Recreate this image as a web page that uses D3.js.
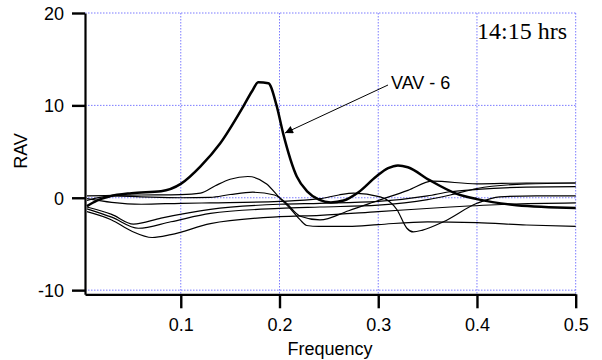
<!DOCTYPE html>
<html>
<head>
<meta charset="utf-8">
<script src="https://cdn.jsdelivr.net/npm/d3@7"></script>
<style>
  body { margin: 0; background: #fff; }
  text { font-family: Arial, "Liberation Sans", sans-serif; }
</style>
</head>
<body>
<script>

// frequency ticks and value ticks
const xTicks = [0.1, 0.2, 0.3, 0.4, 0.5];
const yTicks = [-10, 0, 10, 20];

// VAV - 6 (thick line)
const fVav = [0.005, 0.015, 0.028, 0.05, 0.08, 0.1, 0.12, 0.14, 0.1634, 0.172, 0.1786, 0.1887, 0.197, 0.2036, 0.2175, 0.228, 0.24, 0.252, 0.265, 0.28, 0.298, 0.31, 0.32, 0.33, 0.352, 0.379, 0.4, 0.44, 0.5];
const vVav = [-0.9, -0.3, 0.15, 0.5, 0.7, 1.5, 3.4, 5.9, 9.9, 11.5, 12.5, 12.4, 10.0, 7.0, 2.3, 0.7, -0.2, -0.5, -0.3, 0.6, 2.3, 3.2, 3.5, 3.3, 1.9, 0.45, -0.15, -0.8, -1.1];

// other units (thin lines)
const fT1 = [0.005, 0.03, 0.06, 0.1, 0.12, 0.135, 0.15, 0.168, 0.187, 0.2, 0.212, 0.221, 0.2276, 0.24, 0.27, 0.3, 0.35, 0.4, 0.45, 0.5];
const vT1 = [0.2, 0.25, 0.3, 0.35, 0.5, 1.3, 2.0, 2.3, 1.5, 0.0, -1.3, -2.4, -3.0, -3.1, -3.1, -2.9, -2.6, -2.7, -2.95, -3.1];

const fT2 = [0.005, 0.03, 0.06, 0.1, 0.13, 0.15, 0.173, 0.195, 0.207, 0.221, 0.241, 0.27, 0.3, 0.33, 0.355, 0.4, 0.45, 0.5];
const vT2 = [-0.3, 0.2, 0.1, 0.0, 0.05, 0.35, 0.6, 0.3, -0.6, -2.0, -2.4, -1.4, -0.3, 0.8, 1.8, 1.5, 1.6, 1.6];

const fD = [0.005, 0.03, 0.06, 0.1, 0.13, 0.2, 0.241, 0.26, 0.275, 0.302, 0.319, 0.329, 0.3355, 0.345, 0.366, 0.4, 0.423, 0.46, 0.5];
const vD = [-0.1, -0.5, -0.7, -0.6, -0.55, -0.4, -0.1, 0.3, 0.5, 0.1, -1.3, -3.3, -3.7, -3.5, -2.6, -0.6, 0.1, 0.2, 0.2];

const fY = [0.005, 0.03, 0.052, 0.08, 0.13, 0.2, 0.241, 0.3, 0.35, 0.373, 0.4, 0.45, 0.5];
const vY = [-1.0, -1.8, -2.85, -2.2, -1.26, -0.7, -0.6, -0.4, 0.2, 0.65, 0.9, 1.15, 1.2];

const fZ = [0.005, 0.03, 0.057, 0.09, 0.13, 0.2, 0.241, 0.3, 0.35, 0.373, 0.4, 0.45, 0.5];
const vZ = [-1.2, -2.1, -3.3, -2.6, -1.7, -1.15, -1.0, -0.8, -0.2, 0.3, 1.0, 1.5, 1.6];

const fA = [0.005, 0.03, 0.05, 0.071, 0.09, 0.13, 0.2, 0.241, 0.3, 0.373, 0.43, 0.5];
const vA = [-1.5, -2.4, -3.6, -4.3, -4.0, -2.8, -2.05, -1.9, -1.5, -1.0, -0.7, -0.55];

const thin = [[fT1, vT1], [fT2, vT2], [fD, vD], [fY, vY], [fZ, vZ], [fA, vA]];

const svg = d3.select("body")
  .append("svg")
  .attr("width", 602)
  .attr("height", 360);

const x = d3.scaleLinear().domain([0.003, 0.5]).range([85, 575.7]);
const y = d3.scaleLinear().domain([-10.45, 20]).range([294.3, 13]);

const gridColor = "#7b7bff";

// dotted grid
svg.append("g")
  .selectAll("line")
  .data(xTicks)
  .enter()
  .append("line")
  .attr("x1", d => x(d))
  .attr("x2", d => x(d))
  .attr("y1", y(20))
  .attr("y2", y(-10.45))
  .attr("stroke", gridColor)
  .attr("stroke-width", 1)
  .attr("stroke-dasharray", "1.5,1.5");

svg.append("g")
  .selectAll("line")
  .data(yTicks)
  .enter()
  .append("line")
  .attr("x1", x(0.003))
  .attr("x2", x(0.5))
  .attr("y1", d => y(d))
  .attr("y2", d => y(d))
  .attr("stroke", gridColor)
  .attr("stroke-width", 1)
  .attr("stroke-dasharray", "1.5,1.5");

// axes
const xAxis = svg.append("g")
  .attr("transform", `translate(0,${y(-10.45)})`)
  .call(d3.axisBottom(x).tickValues(xTicks).tickSize(14).tickSizeOuter(0).tickPadding(10).tickFormat(d => d.toFixed(1)));

const yAxis = svg.append("g")
  .attr("transform", `translate(${x(0.003)},0)`)
  .call(d3.axisLeft(y).tickValues(yTicks).tickSize(13).tickSizeOuter(0).tickPadding(8).tickFormat(d => String(d)));

[xAxis, yAxis].forEach(g => {
  g.select(".domain").attr("stroke", "#000").attr("stroke-width", 2.2);
  g.selectAll(".tick line").attr("stroke", "#000").attr("stroke-width", 2.4);
  g.selectAll(".tick text")
    .attr("fill", "#000")
    .style("font-size", "18px")
    .style("font-family", "Arial, 'Liberation Sans', sans-serif");
});
yAxis.selectAll(".tick text").attr("dy", "0.36em");

// lines
const line = d3.line()
  .x(d => x(d[0]))
  .y(d => y(d[1]))
  .curve(d3.curveMonotoneX);

thin.forEach(([f, v]) => {
  svg.append("path")
    .datum(f.map((d, i) => [d, v[i]]))
    .attr("d", line)
    .attr("fill", "none")
    .attr("stroke", "#000")
    .attr("stroke-width", 1.2);
});

svg.append("path")
  .datum(fVav.map((d, i) => [d, vVav[i]]))
  .attr("d", line)
  .attr("fill", "none")
  .attr("stroke", "#000")
  .attr("stroke-width", 2.5);

// annotation arrow
svg.append("defs")
  .append("marker")
  .attr("id", "arrow")
  .attr("viewBox", "0 0 10 10")
  .attr("refX", 10)
  .attr("refY", 5)
  .attr("markerWidth", 10)
  .attr("markerHeight", 8)
  .attr("markerUnits", "userSpaceOnUse")
  .attr("orient", "auto")
  .append("path")
  .attr("d", "M0,0 L10,5 L0,10 z")
  .attr("fill", "#000");

svg.append("line")
  .attr("x1", 388)
  .attr("y1", 85)
  .attr("x2", 285)
  .attr("y2", 133)
  .attr("stroke", "#000")
  .attr("stroke-width", 1)
  .attr("marker-end", "url(#arrow)");

svg.append("text")
  .attr("x", 391)
  .attr("y", 89)
  .style("font-size", "18px")
  .text("VAV - 6");

svg.append("text")
  .attr("x", 477)
  .attr("y", 39)
  .style("font-family", "'Liberation Serif', 'Times New Roman', serif")
  .style("font-size", "24px")
  .text("14:15 hrs");

// axis titles
svg.append("text")
  .attr("x", 330)
  .attr("y", 355)
  .attr("text-anchor", "middle")
  .style("font-size", "18px")
  .text("Frequency");

svg.append("text")
  .attr("transform", "translate(27,151) rotate(-90)")
  .attr("text-anchor", "middle")
  .style("font-size", "18px")
  .text("RAV");

</script>
</body>
</html>
